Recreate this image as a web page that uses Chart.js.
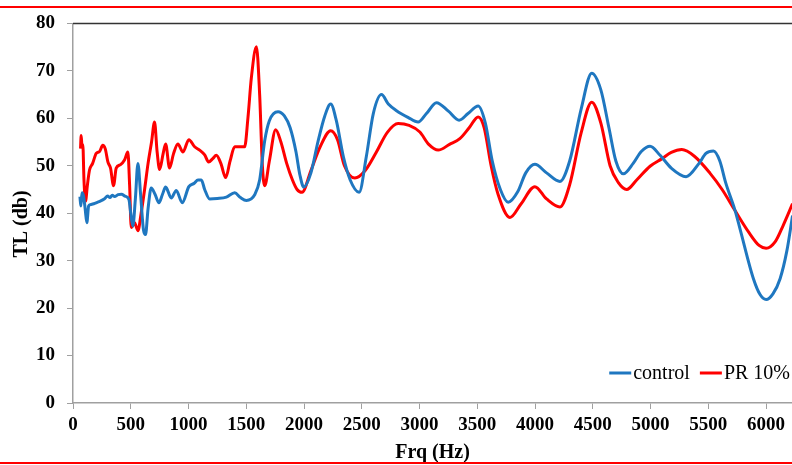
<!DOCTYPE html>
<html>
<head>
<meta charset="utf-8">
<script src="https://cdn.jsdelivr.net/npm/chart.js@4.4.1/dist/chart.umd.min.js"></script>
<style>
  html, body { margin: 0; padding: 0; background: #fff; }
  #wrap { position: relative; width: 792px; height: 465px; overflow: hidden; }
  .rule { position: absolute; left: 0; width: 792px; height: 2px; background: #ff0000; }
</style>
</head>
<body>
<div id="wrap">
  <canvas id="tlChart" width="792" height="465"></canvas>
  <div class="rule" style="top:6px"></div>
  <div class="rule" style="top:462px"></div>
</div>
<script>
// control (blue)
const controlFreq = [60, 68, 78, 92, 105, 120, 135, 150, 180, 210, 240, 270, 300, 320, 340, 360, 390, 420, 450, 484,
  500, 518, 540, 562, 585, 610, 628, 650, 677, 710, 744, 775, 802, 851, 894, 946, 1003, 1050, 1082, 1111,
  1140, 1183, 1250, 1328, 1400, 1450, 1501, 1573, 1616, 1660, 1700, 1775, 1830, 1880, 1930, 1965, 1998, 2060, 2120, 2180,
  2231, 2280, 2340, 2400, 2477, 2540, 2600, 2671, 2730, 2801, 2900, 2988, 3060, 3147, 3250, 3343, 3420, 3508, 3570, 3630,
  3700, 3768, 3850, 3920, 3999, 4100, 4216, 4300, 4400, 4491, 4570, 4640, 4700, 4765, 4850, 4920, 4996, 5083, 5180, 5308,
  5420, 5480, 5545, 5600, 5650, 5733, 5776, 5891, 5950, 6001, 6060, 6122, 6180, 6230];
const controlTL = [43.5, 41.5, 44.3, 43.5, 41, 38, 41.5, 41.8, 42, 42.3, 42.6, 43, 43.6, 43.3, 43.8, 43.5, 43.9, 44, 43.6, 42.9,
  40, 37.3, 43, 50.5, 44, 36.5, 35.5, 41, 45.3, 44, 42.2, 44, 45.5, 43.2, 44.8, 42.2, 45.6, 46.3, 47, 47,
  45, 43, 43.1, 43.4, 44.3, 43.3, 42.7, 43.9, 47, 55.3, 59.5, 61.4, 60.5, 58, 53, 48, 45.5, 48.5, 55, 60.5,
  63, 59.5, 52, 47, 44.4, 52, 61, 65, 63, 61.6, 60.2, 59.2, 61, 63.3, 61.5, 59.6, 61, 62.6, 59, 51,
  45, 42.3, 44.5, 48.5, 50.3, 48.5, 46.7, 51, 62, 69.5, 66, 58, 51, 48.3, 50.5, 53, 54.1, 52.2, 49.5, 47.7,
  50.5, 52.6, 53.1, 51, 46.5, 40.5, 36.6, 26.2, 22.8, 21.8, 23, 26.2, 32, 39.5];

// PR 10% (red)
const prFreq = [65, 71, 78, 85, 95, 108, 125, 143, 170, 201, 230, 258, 280, 302, 325, 351, 374, 410, 446, 475,
  490, 504, 520, 533, 562, 590, 620, 650, 680, 706, 728, 750, 780, 802, 836, 870, 908, 952, 1003, 1053,
  1096, 1140, 1174, 1210, 1241, 1280, 1322, 1360, 1400, 1486, 1515, 1544, 1588, 1616, 1640, 1660, 1700, 1755, 1800, 1850,
  1900, 1940, 1983, 2060, 2140, 2231, 2290, 2350, 2440, 2530, 2627, 2720, 2815, 2910, 3003, 3080, 3162, 3260, 3349, 3430,
  3508, 3560, 3620, 3680, 3783, 3880, 3999, 4100, 4216, 4300, 4400, 4491, 4570, 4650, 4720, 4794, 4880, 4996, 5100, 5180,
  5271, 5380, 5516, 5620, 5733, 5850, 5940, 6001, 6080, 6150, 6230];
const prTL = [53.6, 56.4, 54, 54.5, 47, 42.5, 46, 49.1, 50.5, 52.6, 53, 54.3, 53.5, 50.8, 49.5, 45.8, 49.5, 50.2, 51.2, 52.9,
  46, 37, 37.5, 38, 36.3, 40, 45, 50.5, 55, 59.2, 53, 49.2, 52.5, 54.6, 49.5, 52.5, 54.6, 52.9, 55.5, 54,
  53.3, 52.3, 50.8, 51.5, 52.2, 50.5, 47.5, 51, 54, 54, 60.2, 68.5, 75.1, 65, 49.8, 45.8, 51, 57.6, 55, 50.5,
  47, 45, 44.4, 49, 54, 57.4, 55.5, 50, 47.4, 49, 52.9, 57, 58.9, 58.5, 57.1, 54.5, 53.3, 54.5, 55.7, 58,
  60.3, 58, 50, 44, 39.1, 42, 45.6, 43, 41.3, 46, 57, 63.4, 59, 50, 46.5, 45, 47, 49.9, 51.5, 52.8,
  53.4, 52, 48.4, 45, 40.5, 36, 33.2, 32.6, 34, 37.5, 42];

const xTicks = [0, 500, 1000, 1500, 2000, 2500, 3000, 3500, 4000, 4500, 5000, 5500, 6000];
const yTitle = "TL (db)";

const serif = "'Liberation Serif', 'Times New Roman', serif";

// top frame line, y title and legend
const framePlugin = {
  id: "frame",
  afterDraw(chart) {
    const ctx = chart.ctx, a = chart.chartArea;
    ctx.save();
    ctx.strokeStyle = "#333";
    ctx.lineWidth = 1.5;
    ctx.beginPath();
    ctx.moveTo(a.left, a.top);
    ctx.lineTo(a.right, a.top);
    ctx.stroke();

    // y axis title
    ctx.save();
    ctx.translate(22, 224);
    ctx.rotate(-Math.PI / 2);
    ctx.font = "bold 20px " + serif;
    ctx.fillStyle = "#000";
    ctx.textAlign = "center";
    ctx.textBaseline = "middle";
    ctx.fillText(yTitle, 0, 0);
    ctx.restore();

    // legend, right aligned near bottom right
    ctx.font = "20px " + serif;
    ctx.textBaseline = "middle";
    const y = 373;
    let x = a.right - 2;
    chart.data.datasets.slice().reverse().forEach(ds => {
      const w = ctx.measureText(ds.label).width;
      x -= w;
      ctx.fillStyle = "#000";
      ctx.fillText(ds.label, x, y + 1);
      x -= 24;
      ctx.strokeStyle = ds.borderColor;
      ctx.lineWidth = 3;
      ctx.beginPath();
      ctx.moveTo(x, y);
      ctx.lineTo(x + 22, y);
      ctx.stroke();
      x -= 10;
    });
    ctx.restore();
  }
};

new Chart(document.getElementById("tlChart"), {
  type: "line",
  data: {
    datasets: [
      { label: "control", data: controlFreq.map((f, i) => ({ x: f, y: controlTL[i] })),
        borderColor: "#1f77c0", borderWidth: 3, pointRadius: 0, cubicInterpolationMode: "monotone" },
      { label: "PR 10%", data: prFreq.map((f, i) => ({ x: f, y: prTL[i] })),
        borderColor: "#ff0000", borderWidth: 3, pointRadius: 0, cubicInterpolationMode: "monotone" }
    ]
  },
  options: {
    responsive: false,
    animation: false,
    layout: { padding: { top: 18, left: 0, right: 0, bottom: 0 } },
    plugins: { legend: { display: false }, tooltip: { enabled: false } },
    scales: {
      x: {
        type: "linear", min: 0, max: 6225,
        afterBuildTicks: s => { s.ticks = xTicks.map(v => ({ value: v })); },
        afterFit: s => { s.height = 62; },
        border: { color: "#a0a0a0", width: 1.5 },
        grid: { drawOnChartArea: false, tickLength: 6, color: "#a0a0a0" },
        ticks: { autoSkip: false, maxRotation: 0, padding: 5, color: "#000",
          font: { family: serif, size: 19, weight: "bold" }, callback: v => String(v) },
        title: { display: true, text: "Frq (Hz)", color: "#000", padding: { top: 0, bottom: 0 },
          font: { family: serif, size: 20, weight: "bold" } }
      },
      y: {
        min: 0, max: 80,
        afterFit: s => { s.width = 73; },
        border: { color: "#a0a0a0", width: 1.5 },
        grid: { drawOnChartArea: false, tickLength: 6, color: "#a0a0a0" },
        ticks: { stepSize: 10, padding: 12, color: "#000",
          font: { family: serif, size: 19, weight: "bold" } }
      }
    }
  },
  plugins: [framePlugin]
});
</script>
</body>
</html>
